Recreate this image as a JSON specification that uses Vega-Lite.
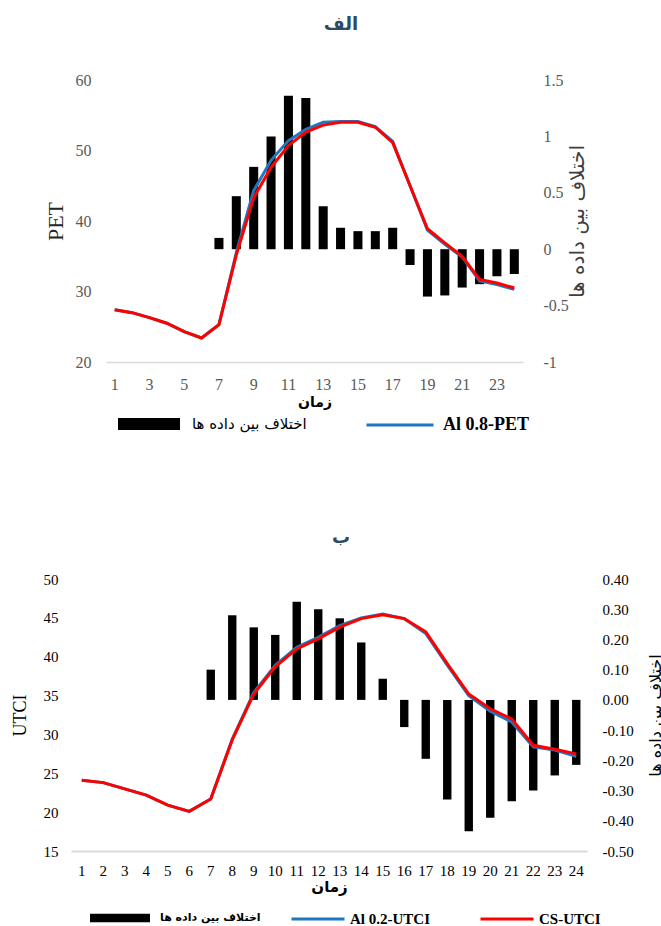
{
  "$schema": "https://vega.github.io/schema/vega-lite/v6.json",
  "background": "white",
  "padding": {"left": 11, "top": 16, "right": 0, "bottom": 0},
  "config": {
    "view": {"stroke": null},
    "axis": {"grid": false, "ticks": false, "domain": false, "labelOverlap": false},
    "font": "Liberation Serif"
  },
  "datasets": {
    "top": [
      {"h": 1, "d": null, "a": 27.4, "c": 27.4},
      {"h": 2, "d": null, "a": 27.0, "c": 27.0},
      {"h": 3, "d": null, "a": 26.3, "c": 26.3},
      {"h": 4, "d": null, "a": 25.5, "c": 25.5},
      {"h": 5, "d": null, "a": 24.3, "c": 24.3},
      {"h": 6, "d": null, "a": 23.4, "c": 23.4},
      {"h": 7, "d": 0.10, "a": 25.3, "c": 25.3},
      {"h": 8, "d": 0.47, "a": 35.5, "c": 35.2},
      {"h": 9, "d": 0.73, "a": 44.3, "c": 43.3},
      {"h": 10, "d": 1.00, "a": 48.6, "c": 47.6},
      {"h": 11, "d": 1.36, "a": 51.4, "c": 50.7},
      {"h": 12, "d": 1.34, "a": 53.0, "c": 52.6},
      {"h": 13, "d": 0.38, "a": 54.0, "c": 53.6},
      {"h": 14, "d": 0.19, "a": 54.1, "c": 54.0},
      {"h": 15, "d": 0.16, "a": 54.1, "c": 54.0},
      {"h": 16, "d": 0.16, "a": 53.4, "c": 53.3},
      {"h": 17, "d": 0.19, "a": 51.3, "c": 51.1},
      {"h": 18, "d": -0.14, "a": 45.0, "c": 45.0},
      {"h": 19, "d": -0.42, "a": 38.7, "c": 38.9},
      {"h": 20, "d": -0.41, "a": 36.7, "c": 36.9},
      {"h": 21, "d": -0.34, "a": 34.9, "c": 35.0},
      {"h": 22, "d": -0.31, "a": 31.5, "c": 31.7},
      {"h": 23, "d": -0.24, "a": 31.0, "c": 31.2},
      {"h": 24, "d": -0.22, "a": 30.3, "c": 30.5}
    ],
    "bottom": [
      {"h": 1, "d": null, "a": 24.1, "c": 24.1},
      {"h": 2, "d": null, "a": 23.8, "c": 23.8},
      {"h": 3, "d": null, "a": 23.0, "c": 23.0},
      {"h": 4, "d": null, "a": 22.2, "c": 22.2},
      {"h": 5, "d": null, "a": 20.9, "c": 20.9},
      {"h": 6, "d": null, "a": 20.1, "c": 20.1},
      {"h": 7, "d": 0.10, "a": 21.7, "c": 21.7},
      {"h": 8, "d": 0.28, "a": 29.4, "c": 29.3},
      {"h": 9, "d": 0.24, "a": 35.4, "c": 35.2},
      {"h": 10, "d": 0.215, "a": 38.9, "c": 38.7},
      {"h": 11, "d": 0.325, "a": 41.2, "c": 41.0},
      {"h": 12, "d": 0.30, "a": 42.5, "c": 42.3},
      {"h": 13, "d": 0.27, "a": 44.0, "c": 43.8},
      {"h": 14, "d": 0.19, "a": 45.0, "c": 44.9},
      {"h": 15, "d": 0.07, "a": 45.5, "c": 45.4},
      {"h": 16, "d": -0.09, "a": 44.9, "c": 44.9},
      {"h": 17, "d": -0.195, "a": 43.0, "c": 43.2},
      {"h": 18, "d": -0.33, "a": 38.9, "c": 39.1},
      {"h": 19, "d": -0.435, "a": 35.0, "c": 35.2},
      {"h": 20, "d": -0.39, "a": 33.0, "c": 33.3},
      {"h": 21, "d": -0.335, "a": 31.6, "c": 32.0},
      {"h": 22, "d": -0.30, "a": 28.4, "c": 28.6},
      {"h": 23, "d": -0.25, "a": 28.0, "c": 28.1},
      {"h": 24, "d": -0.215, "a": 27.2, "c": 27.5}
    ]
  },
  "concat": [
    {
      "title": {"text": "الف", "font": "DejaVu Sans", "fontSize": 18, "fontWeight": "bold", "color": "#2e4a62", "offset": 38, "dx": 44},
      "width": 452,
      "height": 282,
      "data": {"name": "top"},
      "encoding": {
        "x": {
          "field": "h", "type": "ordinal",
          "scale": {"range": [35, 452], "paddingInner": 0, "paddingOuter": 0},
          "axis": {
            "values": [1, 3, 5, 7, 9, 11, 13, 15, 17, 19, 21, 23],
            "labelAngle": 0, "labelFont": "Liberation Serif", "labelFontSize": 16, "labelColor": "#595959", "labelPadding": 14,
            "domain": true, "domainColor": "#d9d9d9", "domainWidth": 1.5,
            "title": "زمان", "titleFont": "DejaVu Sans", "titleFontWeight": "bold", "titleFontSize": 14, "titleColor": "black", "titlePadding": 3
          }
        }
      },
      "layer": [
        {
          "mark": {"type": "bar", "width": {"band": 0.52}},
          "encoding": {
            "y": {
              "field": "d", "type": "quantitative",
              "scale": {"domain": [-1, 1.5], "zero": false, "nice": false},
              "axis": {
                "orient": "right", "values": [-1, -0.5, 0, 0.5, 1, 1.5], "tickCount": 6,
                "labelExpr": "(datum.value < 0 ? '-' : '') + format(abs(datum.value), '~g')",
                "labelFont": "Liberation Serif", "labelFontSize": 16, "labelColor": "#595959", "labelPadding": 20,
                "title": "اختلاف بین داده ها", "titleFont": "DejaVu Sans", "titleFontSize": 20, "titleFontWeight": "normal", "titleColor": "#404040", "titleAngle": 270, "titlePadding": 19
              }
            },
            "fill": {
              "datum": "اختلاف بین داده ها",
              "scale": {"range": ["black"]},
              "legend": {
                "orient": "none", "legendX": 47, "legendY": 313, "direction": "horizontal", "title": null, "padding": 0,
                "symbolType": "M-1,-0.19H1V0.19H-1Z", "symbolSize": 3844, "symbolStrokeWidth": 0,
                "labelFont": "DejaVu Sans", "labelFontSize": 15, "labelColor": "black", "labelOffset": 12
              }
            }
          }
        },
        {
          "layer": [
            {
              "mark": {"type": "line", "strokeWidth": 3},
              "encoding": {
                "y": {
                  "field": "a", "type": "quantitative",
                  "scale": {"domain": [20, 60], "zero": false, "nice": false},
                  "axis": {
                    "offset": -35,
                    "values": [20, 30, 40, 50, 60], "tickCount": 5,
                    "labelFont": "Liberation Serif", "labelFontSize": 16, "labelColor": "#595959", "labelPadding": 15,
                    "title": "PET", "titleFont": "Liberation Serif", "titleFontSize": 22, "titleFontWeight": "normal", "titleColor": "#262626", "titlePadding": 8
                  }
                },
                "stroke": {
                  "datum": "Al 0.8-PET",
                  "scale": {"range": ["#1f77c0"]},
                  "legend": {
                    "orient": "none", "legendX": 294, "legendY": 310, "direction": "horizontal", "title": null, "padding": 0,
                    "symbolType": "stroke", "symbolSize": 4489, "symbolStrokeWidth": 3,
                    "labelFont": "Liberation Serif", "labelFontWeight": "bold", "labelFontSize": 18, "labelColor": "black", "labelOffset": 8
                  }
                }
              }
            },
            {
              "mark": {"type": "line", "strokeWidth": 3, "color": "#ff0000"},
              "encoding": {
                "y": {"field": "c", "type": "quantitative"}
              }
            }
          ]
        }
      ],
      "resolve": {"scale": {"y": "independent"}}
    },
    {
      "title": {"text": "ب", "font": "DejaVu Sans", "fontSize": 18, "fontWeight": "bold", "color": "#2e4a62", "offset": 25, "dx": 12},
      "width": 516,
      "height": 272,
      "data": {"name": "bottom"},
      "encoding": {
        "x": {
          "field": "h", "type": "ordinal",
          "scale": {"paddingInner": 0, "paddingOuter": 0},
          "axis": {
            "labelAngle": 0, "labelFont": "Liberation Serif", "labelFontSize": 15, "labelColor": "black", "labelPadding": 12,
            "domain": true, "domainColor": "#d9d9d9", "domainWidth": 2,
            "title": "زمان", "titleFont": "DejaVu Sans", "titleFontWeight": "bold", "titleFontSize": 15, "titleColor": "black", "titlePadding": 1
          }
        }
      },
      "layer": [
        {
          "mark": {"type": "bar", "width": {"band": 0.39}},
          "encoding": {
            "y": {
              "field": "d", "type": "quantitative",
              "scale": {"domain": [-0.5, 0.4], "zero": false, "nice": false},
              "axis": {
                "orient": "right", "values": [-0.5, -0.4, -0.3, -0.2, -0.1, 0, 0.1, 0.2, 0.3, 0.4], "tickCount": 10,
                "labelExpr": "(datum.value < 0 ? '-' : '') + format(abs(datum.value), '.2f')",
                "labelFont": "Liberation Serif", "labelFontSize": 15, "labelColor": "black", "labelPadding": 15,
                "title": "اختلاف بین داده ها", "titleFont": "DejaVu Sans", "titleFontSize": 16, "titleFontWeight": "normal", "titleColor": "black", "titleAngle": 270, "titlePadding": 30
              }
            },
            "fill": {
              "datum": "اختلاف بین داده ها",
              "scale": {"range": ["black"]},
              "legend": {
                "orient": "none", "legendX": 19, "legendY": 309, "direction": "horizontal", "title": null, "padding": 0,
                "symbolType": "M-1,-0.14H1V0.14H-1Z", "symbolSize": 3600, "symbolStrokeWidth": 0,
                "labelFont": "DejaVu Sans", "labelFontWeight": "bold", "labelFontSize": 11, "labelColor": "black", "labelOffset": 10
              }
            }
          }
        },
        {
          "layer": [
            {
              "mark": {"type": "line", "strokeWidth": 3},
              "encoding": {
                "y": {
                  "field": "a", "type": "quantitative",
                  "scale": {"domain": [15, 50], "zero": false, "nice": false},
                  "axis": {
                    "values": [15, 20, 25, 30, 35, 40, 45, 50], "tickCount": 8,
                    "labelFont": "Liberation Serif", "labelFontSize": 15, "labelColor": "black", "labelPadding": 13,
                    "title": "UTCI", "titleFont": "Liberation Serif", "titleFontSize": 18, "titleFontWeight": "normal", "titleColor": "black", "titlePadding": 14
                  }
                },
                "stroke": {
                  "datum": "Al 0.2-UTCI",
                  "scale": {"domain": ["Al 0.2-UTCI", "CS-UTCI"], "range": ["#1f77c0", "#ff0000"]},
                  "legend": {
                    "orient": "none", "legendX": 219, "legendY": 312, "direction": "horizontal", "title": null, "padding": 0,
                    "symbolType": "stroke", "symbolSize": 2809, "symbolStrokeWidth": 3, "columnPadding": 43,
                    "labelFont": "Liberation Serif", "labelFontWeight": "bold", "labelFontSize": 15, "labelColor": "black", "labelOffset": 4
                  }
                }
              }
            },
            {
              "mark": {"type": "line", "strokeWidth": 3},
              "encoding": {
                "y": {"field": "c", "type": "quantitative"},
                "stroke": {
                  "datum": "CS-UTCI",
                  "scale": {"domain": ["Al 0.2-UTCI", "CS-UTCI"], "range": ["#1f77c0", "#ff0000"]}
                }
              }
            }
          ]
        }
      ],
      "resolve": {"scale": {"y": "independent"}}
    }
  ],
  "columns": 1,
  "align": "none",
  "spacing": 95,
  "resolve": {
    "scale": {"fill": "independent", "stroke": "independent"},
    "legend": {"fill": "independent", "stroke": "independent"}
  }
}
